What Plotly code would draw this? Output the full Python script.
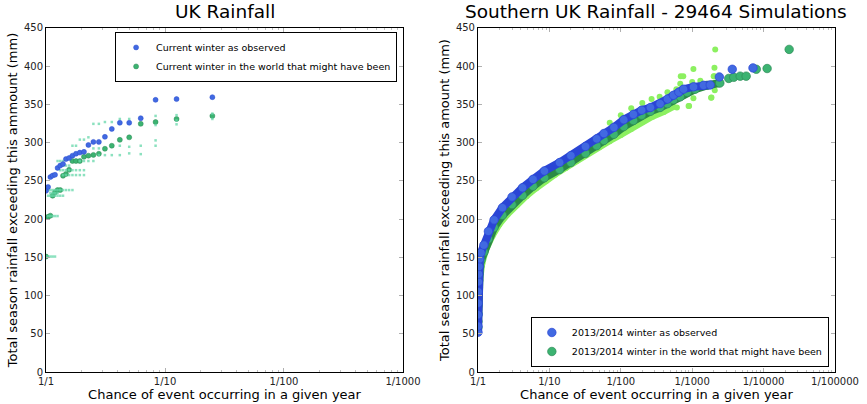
import plotly.graph_objects as go

# ---- left panel: UK rainfall, 24 winters ranked (return period in years) ----
obs_rp = [1.0, 1.04, 1.087, 1.136, 1.19, 1.25, 1.316, 1.389, 1.47, 1.5625, 1.667, 1.786, 1.923,
          2.083, 2.27, 2.5, 2.78, 3.125, 3.57, 4.17, 5.0, 6.25, 8.33, 12.5, 25.0]
obs_mm = [237, 242, 255, 257, 258, 267, 270, 272, 278.5, 280, 283, 285.5, 287,
          288, 297, 301, 301, 307.6, 318, 326, 326, 332, 356, 357, 359.5]
model_mm = [151, 203, 204.5, 230.6, 235, 238, 238, 256.7, 259, 264.5, 276, 276, 276,
            281.5, 283, 284, 285.5, 292, 296, 303.7, 307, 324.6, 327, 331, 335]

# individual simulations (small dots)
sim_rp = [1.0, 1.04, 1.087, 1.136, 1.19,
          1.04, 1.087, 1.136, 1.19, 1.25,
          1.04, 1.087, 1.136, 1.19, 1.25, 1.316, 1.389,
          1.087, 1.136, 1.19, 1.25,
          1.0, 1.04, 1.087, 1.136, 1.19, 1.25, 1.316, 1.389, 1.47, 1.5625, 1.667,
          1.389, 1.47, 1.5625, 1.667, 1.786, 1.923, 2.083,
          1.316, 1.389, 1.47, 1.5625, 1.667, 1.786, 1.923, 2.083,
          1.389, 1.47, 1.5625,
          1.25, 1.316, 1.389, 1.923, 2.083, 2.27, 2.5,
          2.78, 3.125, 3.57, 4.17, 5.0, 6.25,
          2.5, 2.78,
          1.667, 1.786, 4.17, 5.0, 6.25, 8.33,
          1.923, 2.083, 8.33,
          2.27,
          2.5, 2.78, 3.125, 3.57, 4.17, 5.0, 6.25,
          8.33, 8.33, 12.5, 12.5, 12.5, 25.0, 25.0]
sim_mm = [151, 151, 151, 151, 151,
          204, 204, 204, 204, 204,
          230.6, 230.6, 230.6, 230.6, 230.6, 230.6, 230.6,
          234, 234, 234, 234,
          238, 238, 238, 238, 238, 238, 238, 238, 238, 238, 238,
          257.6, 257.6, 257.6, 257.6, 257.6, 257.6, 257.6,
          264, 264, 264, 264, 264, 264, 264, 264,
          270, 270, 270,
          276, 276, 276, 276, 276, 276, 276,
          283.7, 283.7, 283.7, 283.7, 286, 285,
          292.5, 292.5,
          296, 296, 296, 294.6, 296, 296,
          304, 304, 303,
          307,
          324.6, 324.6, 327, 327, 331, 331, 331,
          335, 323, 324, 329, 336, 331, 338]

# ---- right panel: southern UK rainfall, 29464 simulations ----
obs_s_rp = [1.00003, 1.0002, 1.001, 1.003, 1.006, 1.012, 1.02, 1.035, 1.06, 1.1, 1.21, 1.4, 1.68,
            2.2, 3.0, 4.2, 5.9, 8.5, 13.9, 20, 32, 46, 58, 80, 110, 150, 196, 260, 355, 450,
            546, 650, 755, 1043, 1440, 1790, 2400, 3640, 7100]
obs_s_mm = [52, 60, 75, 90, 105, 118, 128, 138, 148, 156, 166, 184, 199,
            215, 229, 241, 252, 263, 274, 283, 295, 305, 312, 320, 330, 337, 342.5, 346, 351, 357,
            362, 366, 370, 373, 375, 375.5, 386, 396, 397.8]
model_s_rp = [1.00003, 1.0003, 1.001, 1.003, 1.006, 1.012, 1.02, 1.035, 1.06, 1.1, 1.21, 1.4, 1.68,
              2.2, 3.0, 4.2, 5.9, 8.5, 13.9, 20, 32, 46, 58, 80, 110, 150, 196, 260, 355, 450,
              546, 680, 850, 1100, 1620, 2440, 3250, 3820, 4700, 5700, 7900, 11200, 22800]
model_s_mm = [58, 66, 76, 87, 98, 110, 120, 129, 138, 146, 157, 174, 189,
              205, 219, 231, 243, 254, 265, 274, 286, 296, 303, 311, 321, 329, 336, 341, 346, 351,
              356, 360, 366, 370, 375, 378, 384, 385.5, 387, 387, 396, 397, 422]
# individual ensemble members (pale green)
sims_s_rp = [1.0, 1.01, 1.03, 1.07, 1.15, 1.3, 1.6, 2.0, 2.6, 3.5, 4.8, 6.5, 9, 12, 17, 24, 35, 50,
             70, 100, 140, 200, 280, 400, 550,
             70, 100, 140, 200, 270, 350, 450, 600,
             692, 2040, 2070, 1840, 905, 610, 1040, 680, 1000, 2100, 2050, 750, 1040, 1900,
             1860, 890, 2000, 1300]
sims_s_mm = [56, 70, 95, 120, 142, 160, 178, 193, 206, 218, 230, 240, 250, 258, 267, 276, 286, 294,
             302, 310, 318, 327, 334, 340, 347,
             326, 336, 345, 352, 357, 360, 366, 370,
             387, 387, 368.6, 358.6, 348, 346, 358, 377, 379.5, 422, 398, 387, 396.5, 374,
             359, 348, 387, 381]

font = "DejaVu Sans"
blue = "#4169e1"
green = "#3cb371"
pale = "#8cf060"

fig = go.Figure()

# left panel
fig.add_trace(go.Scatter(x=obs_rp, y=model_mm, mode="markers", name="Current winter in the world that might have been",
                         marker=dict(color=green, size=5, line=dict(color="#2e8b57", width=0.5)),
                         legend="legend", legendrank=2, xaxis="x", yaxis="y"))
fig.add_trace(go.Scatter(x=sim_rp, y=sim_mm, mode="markers", showlegend=False,
                         marker=dict(color="rgba(102,215,170,0.75)", size=2.5, symbol="square"),
                         xaxis="x", yaxis="y"))
fig.add_trace(go.Scatter(x=obs_rp, y=obs_mm, mode="markers", name="Current winter as observed",
                         marker=dict(color=blue, size=5, line=dict(color="#2a4fd0", width=0.5)),
                         legend="legend", legendrank=1, xaxis="x", yaxis="y"))

# right panel
fig.add_trace(go.Scatter(x=sims_s_rp[:25], y=sims_s_mm[:25], mode="lines", showlegend=False,
                         line=dict(color=pale, width=6), xaxis="x2", yaxis="y2"))
fig.add_trace(go.Scatter(x=sims_s_rp, y=sims_s_mm, mode="markers", showlegend=False,
                         marker=dict(color=pale, size=6), xaxis="x2", yaxis="y2"))
n_mod = len([v for v in model_s_rp if v < 2500])
fig.add_trace(go.Scatter(x=model_s_rp[:n_mod], y=model_s_mm[:n_mod], mode="lines", showlegend=False,
                         line=dict(color="#2a8a45", width=8), xaxis="x2", yaxis="y2"))
fig.add_trace(go.Scatter(x=model_s_rp, y=model_s_mm, mode="markers",
                         name="2013/2014 winter in the world that might have been",
                         marker=dict(color=green, size=8.5, line=dict(color="#2e8b57", width=0.7)),
                         legend="legend2", legendrank=2, xaxis="x2", yaxis="y2"))
n_obs = len([v for v in obs_s_rp if v < 2000])
fig.add_trace(go.Scatter(x=obs_s_rp[:n_obs], y=obs_s_mm[:n_obs], mode="lines", showlegend=False,
                         line=dict(color="#2a45d5", width=8), xaxis="x2", yaxis="y2"))
fig.add_trace(go.Scatter(x=obs_s_rp, y=obs_s_mm, mode="markers", name="2013/2014 winter as observed",
                         marker=dict(color=blue, size=8.5, line=dict(color="#2a45d5", width=0.7)),
                         legend="legend2", legendrank=1, xaxis="x2", yaxis="y2"))

axis_common = dict(showline=True, linecolor="black", linewidth=1, mirror="ticks", showgrid=False,
                   zeroline=False, ticks="inside", ticklen=4, tickcolor="#b0b0b0", automargin=False,
                   tickfont=dict(family=font, size=10, color="#222"))
ytick = dict(range=[0, 450], tickvals=[0, 50, 100, 150, 200, 250, 300, 350, 400, 450], **axis_common)
xtitle = dict(text="Chance of event occurring in a given year", font=dict(family=font, size=13, color="black"),
              standoff=0)
minor = dict(ticks="inside", ticklen=2, tickcolor="#c0c0c0", dtick="D1")

fig.update_layout(
    width=867, height=404, margin=dict(l=0, r=0, t=0, b=0, autoexpand=False),
    plot_bgcolor="white", paper_bgcolor="white", font=dict(family=font),
    xaxis=dict(domain=[0.0531, 0.4648], type="log", range=[0, 3], anchor="y",
               tickvals=[1, 10, 100, 1000], ticktext=["1/1", "1/10", "1/100", "1/1000"],
               minor=minor, title=xtitle, **axis_common),
    yaxis=dict(domain=[0.0792, 0.9307], anchor="x",
               title=dict(text="Total season rainfall exceeding this ammount (mm)",
                          font=dict(family=font, size=13, color="black"), standoff=3),
               **ytick),
    xaxis2=dict(domain=[0.5513, 0.9631], type="log", range=[0, 5], anchor="y2",
                tickvals=[1, 10, 100, 1000, 10000, 100000],
                ticktext=["1/1", "1/10", "1/100", "1/1000", "1/10000", "1/100000"],
                minor=minor, title=xtitle, **axis_common),
    yaxis2=dict(domain=[0.0792, 0.9307], anchor="x2",
                title=dict(text="Total season rainfall exceeding this amount (mm)",
                           font=dict(family=font, size=13, color="black"), standoff=3),
                **ytick),
    legend=dict(x=0.458, y=0.921, xanchor="right", yanchor="top", bordercolor="black", borderwidth=1,
                bgcolor="white", font=dict(family=font, size=9.5, color="black"),
                itemwidth=30, tracegroupgap=0, traceorder="normal"),
    legend2=dict(x=0.956, y=0.0916, xanchor="right", yanchor="bottom", bordercolor="black", borderwidth=1,
                 bgcolor="white", font=dict(family=font, size=9.5, color="black"),
                 itemwidth=30, tracegroupgap=0, traceorder="normal"),
    annotations=[
        dict(text="UK Rainfall", x=0.259, y=0.972, xref="paper", yref="paper", showarrow=False,
             xanchor="center", yanchor="middle", font=dict(family=font, size=18.5, color="black")),
        dict(text="Southern UK Rainfall - 29464 Simulations", x=0.757, y=0.972, xref="paper", yref="paper",
             showarrow=False, xanchor="center", yanchor="middle", font=dict(family=font, size=18.5, color="black")),
    ],
    showlegend=True,
)

# page body has a default 8px margin; drop it so the figure sits at the window corner
fig.write_html("out.html", config={"displayModeBar": False},
               post_script="document.body.style.margin='0';")
